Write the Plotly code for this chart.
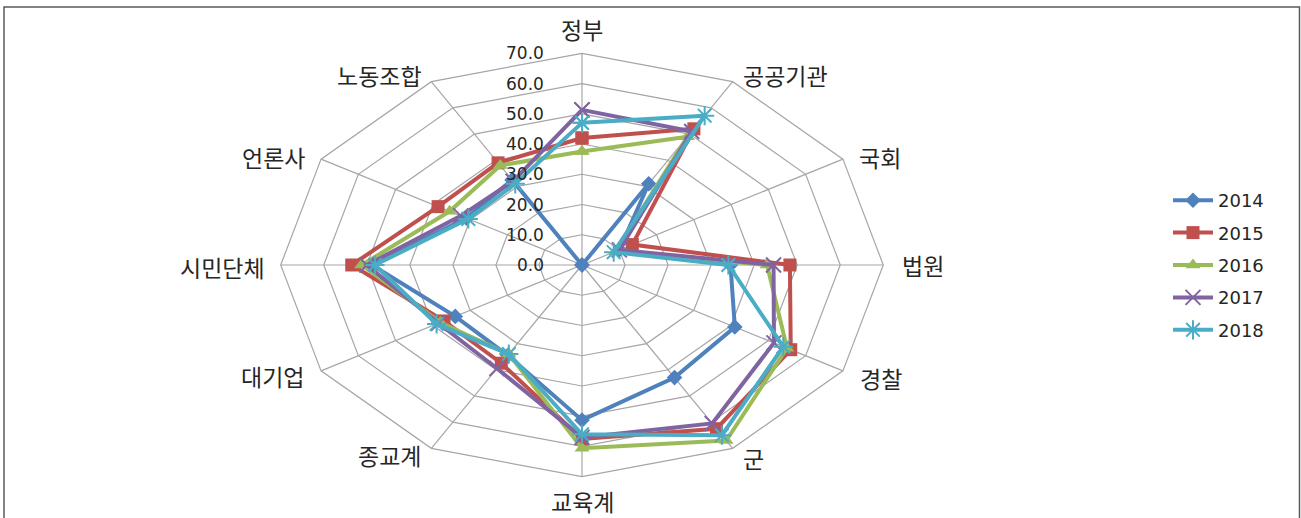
import math
import plotly.graph_objects as go

categories = ['정부', '공공기관', '국회', '법원', '경찰', '군', '교육계', '종교계', '대기업', '시민단체', '언론사', '노동조합']
years = ['2014', '2015', '2016', '2017', '2018']
v2014 = [0.0, 31.0, 10.0, 34.5, 41.0, 43.0, 51.3, 34.5, 34.0, 48.8, 31.0, 32.5]
v2015 = [42.0, 52.0, 13.5, 48.3, 56.0, 62.5, 57.5, 37.5, 37.0, 53.5, 38.6, 39.0]
v2016 = [37.5, 49.0, 9.0, 43.0, 55.0, 67.0, 60.6, 34.0, 38.0, 51.2, 35.5, 38.0]
v2017 = [51.3, 51.0, 10.0, 44.5, 51.5, 60.5, 57.0, 39.5, 38.5, 50.0, 32.5, 32.0]
v2018 = [47.0, 57.0, 8.5, 34.0, 54.0, 65.0, 56.0, 34.0, 39.0, 48.1, 30.5, 31.0]
series = [v2014, v2015, v2016, v2017, v2018]
rings = [0, 10, 20, 30, 40, 50, 60, 70]
tick_labels = ['0.0', '10.0', '20.0', '30.0', '40.0', '50.0', '60.0', '70.0']

colors = ['#4F81BD', '#C0504D', '#9BBB59', '#8064A2', '#4BACC6']
symbols = ['diamond', 'square', 'triangle-up', 'x-thin-open', 'asterisk-open']
msizes = [12, 13, 13, 15, 16]

W, H = 1301, 518
CX, CY = 582.0, 265.0
SX, SY = 301.3 / 70, 211.7 / 70  # px per unit

n = len(categories)
angles = [2 * math.pi * i / n for i in range(n)]


def xy(vals):
    xs = [v * math.sin(a) for v, a in zip(vals, angles)]
    ys = [v * math.cos(a) for v, a in zip(vals, angles)]
    return xs + xs[:1], ys + ys[:1]


fig = go.Figure()
grid_col = '#a6a6a6'
for r in rings[1:]:
    gx, gy = xy([r] * n)
    fig.add_trace(go.Scatter(x=gx, y=gy, mode='lines', line=dict(color=grid_col, width=1.2),
                             hoverinfo='skip', showlegend=False))
sx_, sy_ = [], []
for a in angles:
    sx_ += [0, rings[-1] * math.sin(a), None]
    sy_ += [0, rings[-1] * math.cos(a), None]
fig.add_trace(go.Scatter(x=sx_, y=sy_, mode='lines', line=dict(color=grid_col, width=1.2),
                         hoverinfo='skip', showlegend=False))

for i, (yr, vals) in enumerate(zip(years, series)):
    px, py = xy(vals)
    mk = dict(symbol=symbols[i], size=msizes[i], color=colors[i])
    if 'open' in symbols[i]:
        mk['line'] = dict(color=colors[i], width=2)
    fig.add_trace(go.Scatter(x=px, y=py, mode='lines+markers', name=yr,
                             line=dict(color=colors[i], width=4),
                             marker=mk, legendgroup=yr,
                             text=categories + categories[:1],
                             hovertemplate='%{text}: ' + '%{customdata}<extra>' + yr + '</extra>',
                             customdata=vals + vals[:1]))

num_font = dict(family='DejaVu Sans, Liberation Sans, sans-serif', size=17, color='#262626')
for r, t in zip(rings, tick_labels):
    fig.add_annotation(x=0, y=r, text=t, showarrow=False, xanchor='right', yanchor='middle',
                       xshift=-36, font=num_font)

lab_font = dict(family='Noto Sans CJK KR, sans-serif', size=23, color='#262626')
offsets = [('center', 0, 24), ('left', 8, 7), ('left', 14, 2), ('left', 17, 0),
           ('left', 15, -7), ('left', 8, -10), ('center', 0, -24), ('right', -8, -7),
           ('right', -15, -5), ('right', -14, -2), ('right', -14, 2), ('right', -7, 7)]
for c, a, (anc, dx, dy) in zip(categories, angles, offsets):
    fig.add_annotation(x=rings[-1] * math.sin(a), y=rings[-1] * math.cos(a), text=c,
                       showarrow=False, xanchor=anc, yanchor='middle', xshift=dx, yshift=dy,
                       font=lab_font)

fig.add_shape(type='rect', xref='paper', yref='paper', x0=4 / W, x1=1299.5 / W,
              y0=-0.05, y1=1 - 7 / H, line=dict(color='#595959', width=1.5), layer='above')

fig.update_layout(
    width=W, height=H, margin=dict(l=0, r=0, t=0, b=0),
    paper_bgcolor='white', plot_bgcolor='white',
    xaxis=dict(range=[-CX / SX, (W - CX) / SX], visible=False, fixedrange=True),
    yaxis=dict(range=[-(H - CY) / SY, CY / SY], visible=False, fixedrange=True),
    legend=dict(x=1168 / W, y=1 - 182 / H, xanchor='left', yanchor='top',
                font=dict(family='DejaVu Sans, Liberation Sans, sans-serif', size=18, color='#262626'),
                traceorder='grouped', tracegroupgap=6, itemwidth=40, bgcolor='rgba(0,0,0,0)'),
    showlegend=True,
)

fig.write_html('out.html', config={'displayModeBar': False},
               post_script="document.body.style.margin='0';document.body.style.overflow='hidden';")
